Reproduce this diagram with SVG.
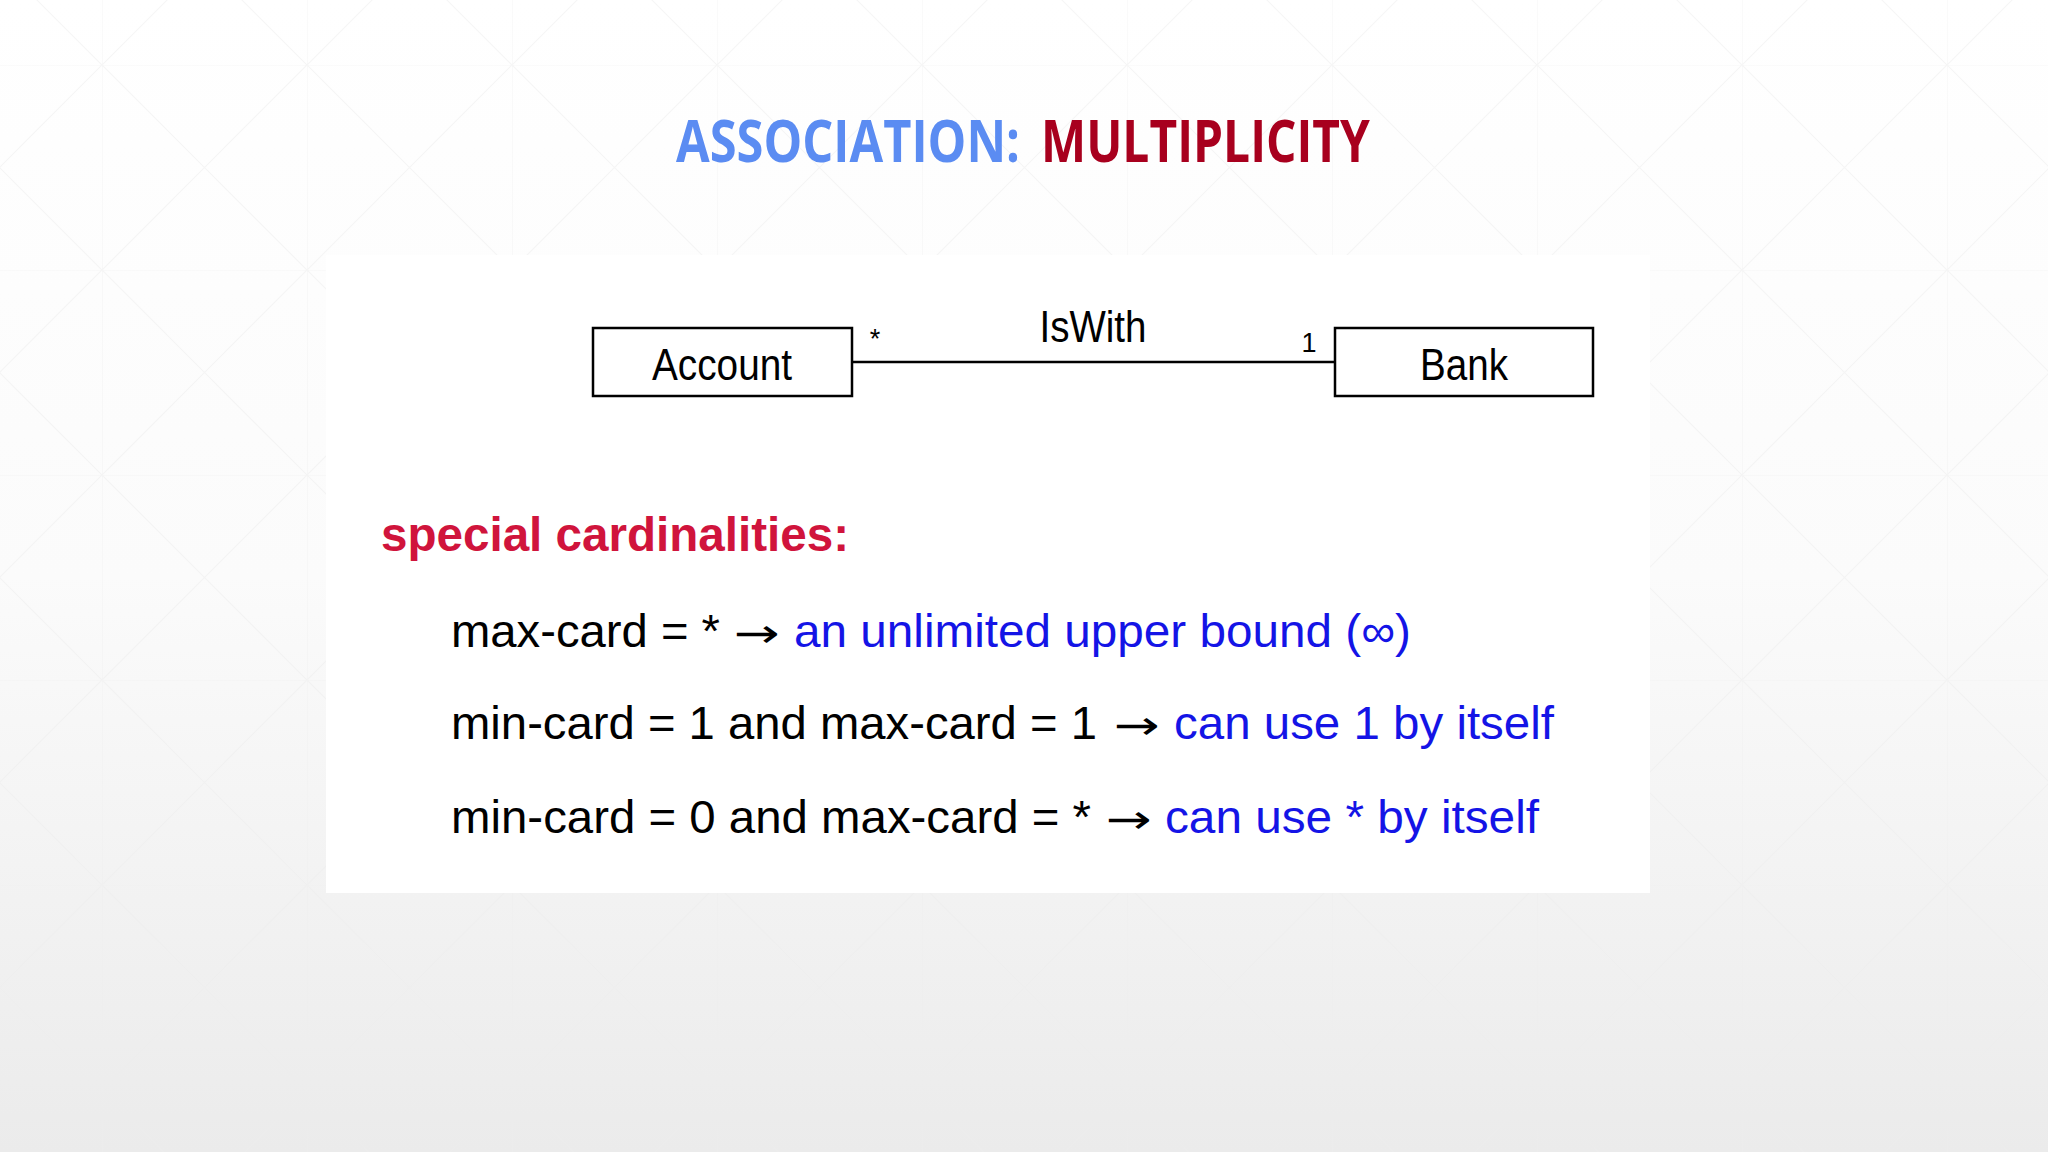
<svg xmlns="http://www.w3.org/2000/svg" width="2048" height="1152" viewBox="0 0 2048 1152">
  <style>
    .title { font-family: "Open Sans", "Liberation Sans", sans-serif; font-weight: bold; font-size: 47px; }
    .uml { font-family: "Liberation Sans", Arial, sans-serif; font-size: 45px; fill: #000; }
    .mult { font-family: "Liberation Sans", Arial, sans-serif; font-size: 27px; fill: #000; }
    .box { fill: #fff; stroke: #000; stroke-width: 2.5; }
    .body { font-family: "Liberation Sans", Arial, sans-serif; font-size: 47px; }
    .blk { fill: #000; }
    .blu { fill: #1414e6; }
    .arr { font-family: "DejaVu Sans", sans-serif; font-size: 40px; fill: #000; }
    .grid { stroke: #ededed; stroke-width: 1.2; fill: none; }
  </style>
  <defs>
    <linearGradient id="bg" x1="0" y1="0" x2="0" y2="1">
      <stop offset="0" stop-color="#ffffff"/>
      <stop offset="0.5" stop-color="#fbfbfb"/>
      <stop offset="1" stop-color="#ebebeb"/>
    </linearGradient>
    <pattern id="grid" x="102" y="65" width="205" height="205" patternUnits="userSpaceOnUse">
      <path class="grid" d="M0 0 H205 M0 0 V205 M0 0 L205 205 M205 0 L0 205"/>
    </pattern>
  </defs>

  <rect x="0" y="0" width="2048" height="1152" fill="url(#bg)"/>
  <rect x="0" y="0" width="2048" height="1152" fill="url(#grid)" opacity="0.5"/>
  <rect x="326" y="255" width="1324" height="638" fill="#ffffff"/>

  <g id="title">
    <text class="title" transform="translate(676,162) scale(1,1.24)" x="0" y="0" fill="#5b8cf2" textLength="344" lengthAdjust="spacingAndGlyphs">ASSOCIATION:</text>
    <text class="title" transform="translate(1041,162) scale(1,1.24)" x="0" y="0" fill="#a8001e" textLength="329" lengthAdjust="spacingAndGlyphs">MULTIPLICITY</text>
  </g>

  <g id="connectors">
    <line x1="852" y1="362" x2="1335" y2="362" stroke="#000" stroke-width="2.5"/>
    <text class="uml" x="1093" y="342" text-anchor="middle" textLength="107" lengthAdjust="spacingAndGlyphs">IsWith</text>
    <text class="mult" x="875" y="348" text-anchor="middle">*</text>
    <text class="mult" x="1309" y="352" text-anchor="middle">1</text>
  </g>

  <g id="account">
    <rect class="box" x="593" y="328" width="259" height="68"/>
    <text class="uml" x="722" y="380" text-anchor="middle" textLength="140" lengthAdjust="spacingAndGlyphs">Account</text>
  </g>

  <g id="bank">
    <rect class="box" x="1335" y="328" width="258" height="68"/>
    <text class="uml" x="1464" y="380" text-anchor="middle" textLength="88" lengthAdjust="spacingAndGlyphs">Bank</text>
  </g>

  <g id="notes">
    <text x="381" y="551" font-family="Liberation Sans, Arial, sans-serif" font-weight="bold" font-size="48" fill="#d0143c" textLength="468" lengthAdjust="spacingAndGlyphs">special cardinalities:</text>

    <text class="body blk" x="451" y="647" textLength="269" lengthAdjust="spacingAndGlyphs">max-card = *</text>
    <text class="arr" x="734" y="647" textLength="46" lengthAdjust="spacingAndGlyphs">→</text>
    <text class="body blu" x="794" y="647" textLength="617" lengthAdjust="spacingAndGlyphs">an unlimited upper bound (∞)</text>

    <text class="body blk" x="451" y="739" textLength="646" lengthAdjust="spacingAndGlyphs">min-card = 1 and max-card = 1</text>
    <text class="arr" x="1114" y="739" textLength="46" lengthAdjust="spacingAndGlyphs">→</text>
    <text class="body blu" x="1174" y="739" textLength="380" lengthAdjust="spacingAndGlyphs">can use 1 by itself</text>

    <text class="body blk" x="451" y="833" textLength="640" lengthAdjust="spacingAndGlyphs">min-card = 0 and max-card = *</text>
    <text class="arr" x="1106" y="833" textLength="46" lengthAdjust="spacingAndGlyphs">→</text>
    <text class="body blu" x="1165" y="833" textLength="374" lengthAdjust="spacingAndGlyphs">can use * by itself</text>
  </g>
</svg>
